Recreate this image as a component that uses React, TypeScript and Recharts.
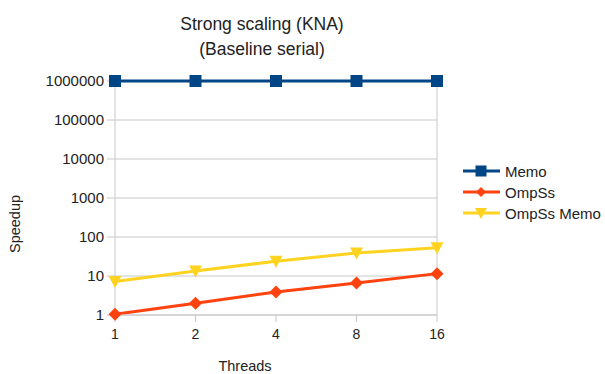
import React from "react";
import { LineChart, Line, XAxis, YAxis, CartesianGrid, ReferenceLine } from "recharts";

const threads = ["1", "2", "4", "8", "16"];
const memo = [1000000, 1000000, 1000000, 1000000, 1000000];
const ompss = [1.05, 2.0, 3.9, 6.6, 11.5];
const ompssMemo = [7.2, 13.4, 24, 39, 53];
const yTicks = [1, 10, 100, 1000, 10000, 100000, 1000000];

const data = threads.map((t, i) => ({ t, memo: memo[i], ompss: ompss[i], ompssMemo: ompssMemo[i] }));

const FONT = "'Liberation Sans', Arial, sans-serif";
const C_MEMO = "#004586";
const C_OMP = "#ff420e";
const C_OMPM = "#ffd320";
const TXT = "#222";

const Square = (props: any) => {
  const { cx, cy } = props;
  if (cx == null || cy == null) return null;
  return <rect key={`s${cx}`} x={cx - 6} y={cy - 6} width={12} height={12} fill={C_MEMO} />;
};
const Diamond = (props: any) => {
  const { cx, cy } = props;
  if (cx == null || cy == null) return null;
  return <polygon key={`d${cx}`} points={`${cx},${cy - 6.5} ${cx + 6.5},${cy} ${cx},${cy + 6.5} ${cx - 6.5},${cy}`} fill={C_OMP} />;
};
const Tri = (props: any) => {
  const { cx, cy } = props;
  if (cx == null || cy == null) return null;
  return <polygon key={`t${cx}`} points={`${cx - 6.5},${cy - 5.5} ${cx + 6.5},${cy - 5.5} ${cx},${cy + 6.5}`} fill={C_OMPM} />;
};

const legendItems = [
  { name: "Memo", color: C_MEMO, shape: "s" },
  { name: "OmpSs", color: C_OMP, shape: "d" },
  { name: "OmpSs Memo", color: C_OMPM, shape: "t" },
];

export default function App() {
  return (
    <div style={{ position: "absolute", left: 0, top: 0, width: 605, height: 374, background: "#fff" }}>
      <div style={{ position: "absolute", left: 0, top: 0 }}>
        <LineChart width={605} height={374} data={data} margin={{ top: 81, right: 168, bottom: 0, left: 20 }}>
          <CartesianGrid vertical={false} stroke="#c8c8c8" />
          <XAxis
            dataKey="t"
            type="category"
            scale="point"
            padding={{ left: 0, right: 0 }}
            height={59}
            axisLine={{ stroke: "#c8c8c8" }}
            tickLine={{ stroke: "#c8c8c8" }}
            tickSize={7}
            tickMargin={7}
            tick={{ fontSize: 14, fontFamily: FONT, fill: TXT }}
          />
          <YAxis
            scale="log"
            type="number"
            domain={[1, 1000000]}
            ticks={yTicks}
            interval={0}
            width={95}
            axisLine={{ stroke: "#c8c8c8" }}
            tickLine={{ stroke: "#c8c8c8" }}
            tickSize={8}
            tickMargin={3}
            tick={{ fontSize: 15, fontFamily: FONT, fill: TXT }}
          />
          <ReferenceLine x="16" stroke="#c8c8c8" />
          <Line dataKey="memo" stroke={C_MEMO} strokeWidth={3} dot={<Square />} isAnimationActive={false} />
          <Line dataKey="ompss" stroke={C_OMP} strokeWidth={3} dot={<Diamond />} isAnimationActive={false} />
          <Line dataKey="ompssMemo" stroke={C_OMPM} strokeWidth={3} dot={<Tri />} isAnimationActive={false} />
        </LineChart>
      </div>
      <svg width={605} height={374} style={{ position: "absolute", left: 0, top: 0, pointerEvents: "none" }}>
        <text x={262} y={30} textAnchor="middle" fontSize={17.5} fontFamily={FONT} fill={TXT}>Strong scaling (KNA)</text>
        <text x={262} y={55} textAnchor="middle" fontSize={17.5} fontFamily={FONT} fill={TXT}>(Baseline serial)</text>
        <text x={245} y={371} textAnchor="middle" fontSize={14.5} fontFamily={FONT} fill={TXT}>Threads</text>
        <text transform="translate(20,224) rotate(-90)" textAnchor="middle" fontSize={14.5} fontFamily={FONT} fill={TXT}>Speedup</text>
        {legendItems.map((it, i) => {
          const y = 171 + i * 21;
          const cx = 481;
          return (
            <g key={it.name}>
              <line x1={463} x2={500} y1={y} y2={y} stroke={it.color} strokeWidth={3} />
              {it.shape === "s" && <rect x={cx - 5.5} y={y - 5.5} width={11} height={11} fill={it.color} />}
              {it.shape === "d" && <polygon points={`${cx},${y - 5} ${cx + 5},${y} ${cx},${y + 5} ${cx - 5},${y}`} fill={it.color} />}
              {it.shape === "t" && <polygon points={`${cx - 6},${y - 5} ${cx + 6},${y - 5} ${cx},${y + 6}`} fill={it.color} />}
              <text x={505} y={y + 5.5} fontSize={15} fontFamily={FONT} fill={TXT}>{it.name}</text>
            </g>
          );
        })}
      </svg>
    </div>
  );
}
